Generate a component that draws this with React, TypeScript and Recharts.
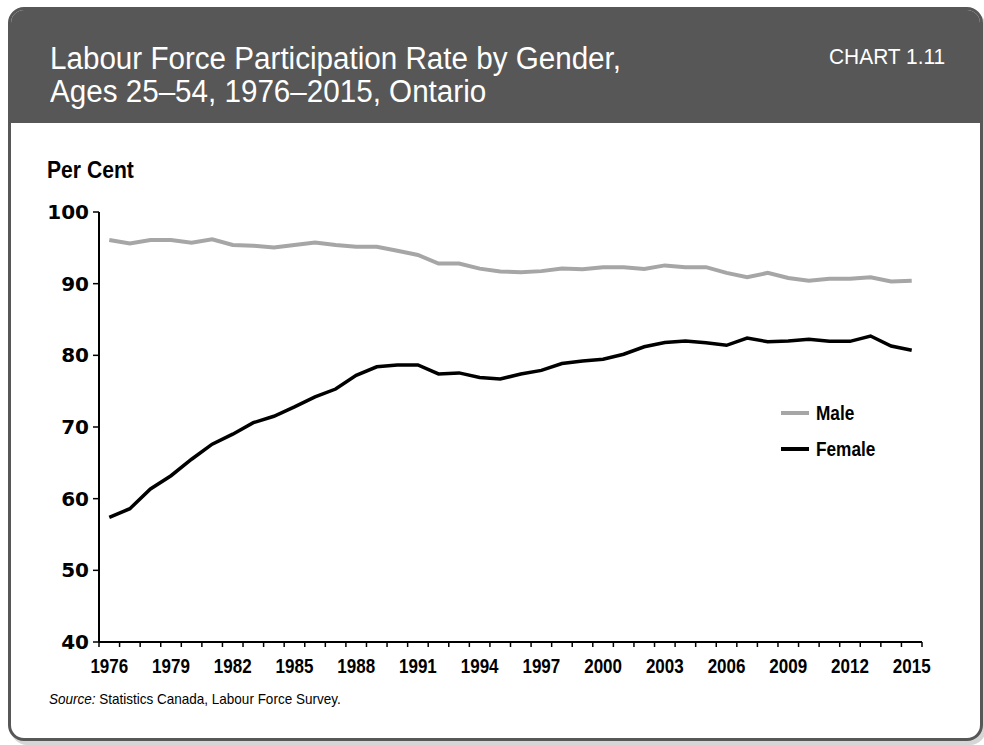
import React from 'react'
import { Line, LineChart, XAxis, YAxis } from 'recharts'

const years = [
  1976, 1977, 1978, 1979, 1980, 1981, 1982, 1983, 1984, 1985,
  1986, 1987, 1988, 1989, 1990, 1991, 1992, 1993, 1994, 1995,
  1996, 1997, 1998, 1999, 2000, 2001, 2002, 2003, 2004, 2005,
  2006, 2007, 2008, 2009, 2010, 2011, 2012, 2013, 2014, 2015,
]

const maleRate = [
  96.1, 95.6, 96.1, 96.1, 95.7, 96.2, 95.4, 95.3, 95.05, 95.4,
  95.75, 95.4, 95.15, 95.15, 94.6, 94.0, 92.8, 92.8, 92.1, 91.7,
  91.6, 91.75, 92.1, 92.0, 92.3, 92.3, 92.05, 92.55, 92.3, 92.3,
  91.5, 90.9, 91.5, 90.8, 90.4, 90.7, 90.7, 90.9, 90.3, 90.4,
]

const femaleRate = [
  57.4, 58.6, 61.35, 63.2, 65.5, 67.6, 69.0, 70.6, 71.5, 72.8,
  74.2, 75.3, 77.2, 78.4, 78.65, 78.65, 77.4, 77.55, 76.9, 76.7,
  77.4, 77.9, 78.85, 79.2, 79.45, 80.15, 81.2, 81.8, 82.0, 81.75,
  81.4, 82.4, 81.9, 82.0, 82.25, 81.95, 81.95, 82.7, 81.3, 80.7,
]

const yearLabels = [1976, 1979, 1982, 1985, 1988, 1991, 1994, 1997, 2000, 2003, 2006, 2009, 2012, 2015]
const yTicks = [40, 50, 60, 70, 80, 90, 100]

const series = [
  { key: 'male', name: 'Male', color: '#a6a6a6', width: 4 },
  { key: 'female', name: 'Female', color: '#000', width: 3.5 },
]

const data = years.map((year, i) => ({ year, male: maleRate[i], female: femaleRate[i] }))
// tick marks sit between the years, labels on the years
const yearEdges = [...years.map((y) => y - 0.5), years[years.length - 1] + 0.5]
const xDomain = [yearEdges[0], yearEdges[yearEdges.length - 1]]

const font = "'Liberation Sans', Arial, sans-serif"
const dark = '#575757'

// no narrow font installed, so squeeze the regular one
const squeeze = (sx: number): React.CSSProperties => ({
  display: 'inline-block',
  transform: `scaleX(${sx})`,
  transformOrigin: 'left center',
  whiteSpace: 'nowrap',
})

const YearTick = (props: any) => {
  const { x, y, payload } = props
  return (
    <g transform={`translate(${x},${y})`}>
      <text
        transform="scale(0.81,1)"
        textAnchor="middle"
        dy="0.71em"
        fill="#000"
        fontFamily={font}
        fontWeight={700}
        fontSize={21}
      >
        {payload.value}
      </text>
    </g>
  )
}

const App = () => {
  return (
    <div style={{ position: 'absolute', left: 0, top: 0, width: 984, height: 745, background: '#fff' }}>
      <div
        style={{
          position: 'absolute', left: 8, top: 7, width: 969, height: 728,
          border: `3px solid ${dark}`, borderRadius: 16, background: '#fff',
          boxShadow: '3px 4px 0 #d6d6d6', overflow: 'hidden',
        }}
      >
        <div style={{ position: 'absolute', left: 0, top: 0, right: 0, height: 113, background: dark }} />
      </div>
      <div style={{ position: 'absolute', left: 50, top: 42, color: '#fff', fontFamily: font, fontSize: 31, lineHeight: '33px' }}>
        <div><span style={squeeze(0.955)}>Labour Force Participation Rate by Gender,</span></div>
        <div><span style={squeeze(0.955)}>Ages 25–54, 1976–2015, Ontario</span></div>
      </div>
      <div style={{ position: 'absolute', left: 829, top: 44, color: '#fff', fontFamily: font, fontSize: 22, lineHeight: '26px' }}>
        <span style={squeeze(0.95)}>CHART 1.11</span>
      </div>
      <div style={{ position: 'absolute', left: 47, top: 156, fontFamily: font, fontWeight: 700, fontSize: 24, lineHeight: '28px' }}>
        <span style={squeeze(0.88)}>Per Cent</span>
      </div>

      <div style={{ position: 'absolute', left: 781, top: 395, fontFamily: font, fontWeight: 700, fontSize: 21 }}>
        {series.map((s) => (
          <div key={s.key} style={{ display: 'flex', alignItems: 'center', height: 36 }}>
            <span style={{ width: 28, height: s.width, background: s.color, marginRight: 7 }} />
            <span style={squeeze(0.82)}>{s.name}</span>
          </div>
        ))}
      </div>

      <div style={{ position: 'absolute', left: 0, top: 190 }}>
        <LineChart width={984} height={498} data={data} margin={{ top: 22, right: 62, bottom: 0, left: 0 }}>
          <XAxis
            xAxisId="edges"
            dataKey="year"
            type="number"
            domain={xDomain}
            ticks={yearEdges}
            tickFormatter={() => ''}
            tickSize={5}
            height={6}
            axisLine={{ stroke: '#000', strokeWidth: 2 }}
            tickLine={{ stroke: '#000', strokeWidth: 1.5 }}
            interval={0}
          />
          <XAxis
            xAxisId="years"
            dataKey="year"
            type="number"
            domain={xDomain}
            ticks={yearLabels}
            interval={0}
            axisLine={false}
            tickLine={false}
            tickSize={0}
            tickMargin={10}
            height={40}
            tick={<YearTick />}
          />
          <YAxis
            domain={[40, 100]}
            ticks={yTicks}
            interval={0}
            width={99}
            tickSize={6}
            tickMargin={4}
            axisLine={{ stroke: '#000', strokeWidth: 2 }}
            tickLine={{ stroke: '#000', strokeWidth: 1.5 }}
            tick={{ fill: '#000', fontFamily: "'DejaVu Sans', sans-serif", fontWeight: 700, fontSize: 20 }}
          />
          {series.map((s) => (
            <Line
              key={s.key}
              xAxisId="edges"
              dataKey={s.key}
              name={s.name}
              stroke={s.color}
              strokeWidth={s.width}
              dot={false}
              isAnimationActive={false}
            />
          ))}
        </LineChart>
      </div>

      <div style={{ position: 'absolute', left: 49, top: 690, fontFamily: font, fontSize: 15, lineHeight: '18px' }}>
        <span style={squeeze(0.9)}>
          <i>Source:</i> Statistics Canada, Labour Force Survey.
        </span>
      </div>
    </div>
  )
}

export default App
